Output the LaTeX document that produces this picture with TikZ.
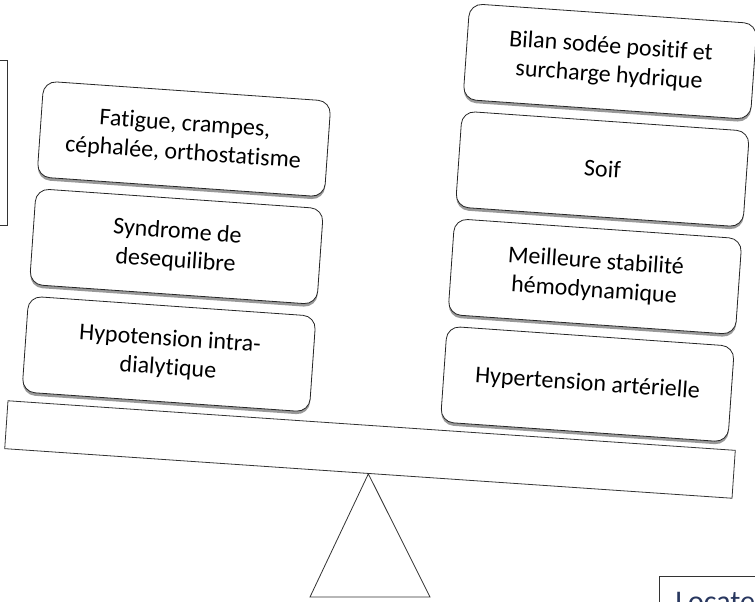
\documentclass[tikz,border=0pt]{standalone}
\usepackage{fontspec}
\setmainfont{Carlito}[Ligatures=NoCommon]
\usetikzlibrary{positioning,shadows}

\definecolor{locblue}{RGB}{40,55,95}

\begin{document}
\begin{tikzpicture}[x=1pt, y=1pt,
    node distance=11pt,
    card/.style={rectangle, draw=black!85, line width=0.8pt, rounded corners=13pt,
                 fill=white, minimum width=288pt, minimum height=96pt, align=center,
                 font=\fontsize{24}{29}\selectfont,
                 drop shadow={shadow xshift=0pt, shadow yshift=-3pt, fill=black!40, opacity=1}},
    plankbox/.style={rectangle, draw=black!80, line width=0.8pt, fill=white,
                 minimum width=729pt, minimum height=48pt},
]
    \useasboundingbox (0,0) rectangle (755,-602);
    \clip (0,0) rectangle (755,-602);

    % pivot
    \coordinate (baseL) at (310,-597);
    \coordinate (baseR) at (430,-597);
    \node[plankbox, rotate=-3.9] (plank) at (370,-449.5) {};
    \draw[black!80, line width=0.8pt] (plank.south) -- (baseL) -- (baseR) -- cycle;

    % left pan
    \begin{scope}[shift={(184,-139)}, rotate=-4, transform shape]
        \node[card] (fatigue) at (0,0) {Fatigue, crampes,\\céphalée, orthostatisme};
        \node[card, below=of fatigue] (desequ) {Syndrome de\\desequilibre};
        \node[card, below=of desequ] (hypoten) {Hypotension intra-\\dialytique};
    \end{scope}

    % right pan
    \begin{scope}[shift={(610,-61.5)}, rotate=-4, transform shape]
        \node[card] (bilan) at (0,0) {Bilan sodée positif et\\surcharge hydrique};
        \node[card, below=of bilan] (soif) {Soif};
        \node[card, below=of soif] (stabil) {Meilleure stabilité\\hémodynamique};
        \node[card, below=of stabil] (hta) {Hypertension artérielle};
    \end{scope}

    % cut-off frames at the edges
    \node[draw=black!80, line width=0.8pt, minimum width=40pt, minimum height=165pt,
          anchor=north east] (leftframe) at (8,-60) {};
    \node[draw=black!80, line width=0.8pt, anchor=north west, inner xsep=16pt,
          inner ysep=16pt, text=locblue, font=\fontsize{30}{34}\selectfont]
          (locate) at (659,-576) {Locate};
\end{tikzpicture}
\end{document}
